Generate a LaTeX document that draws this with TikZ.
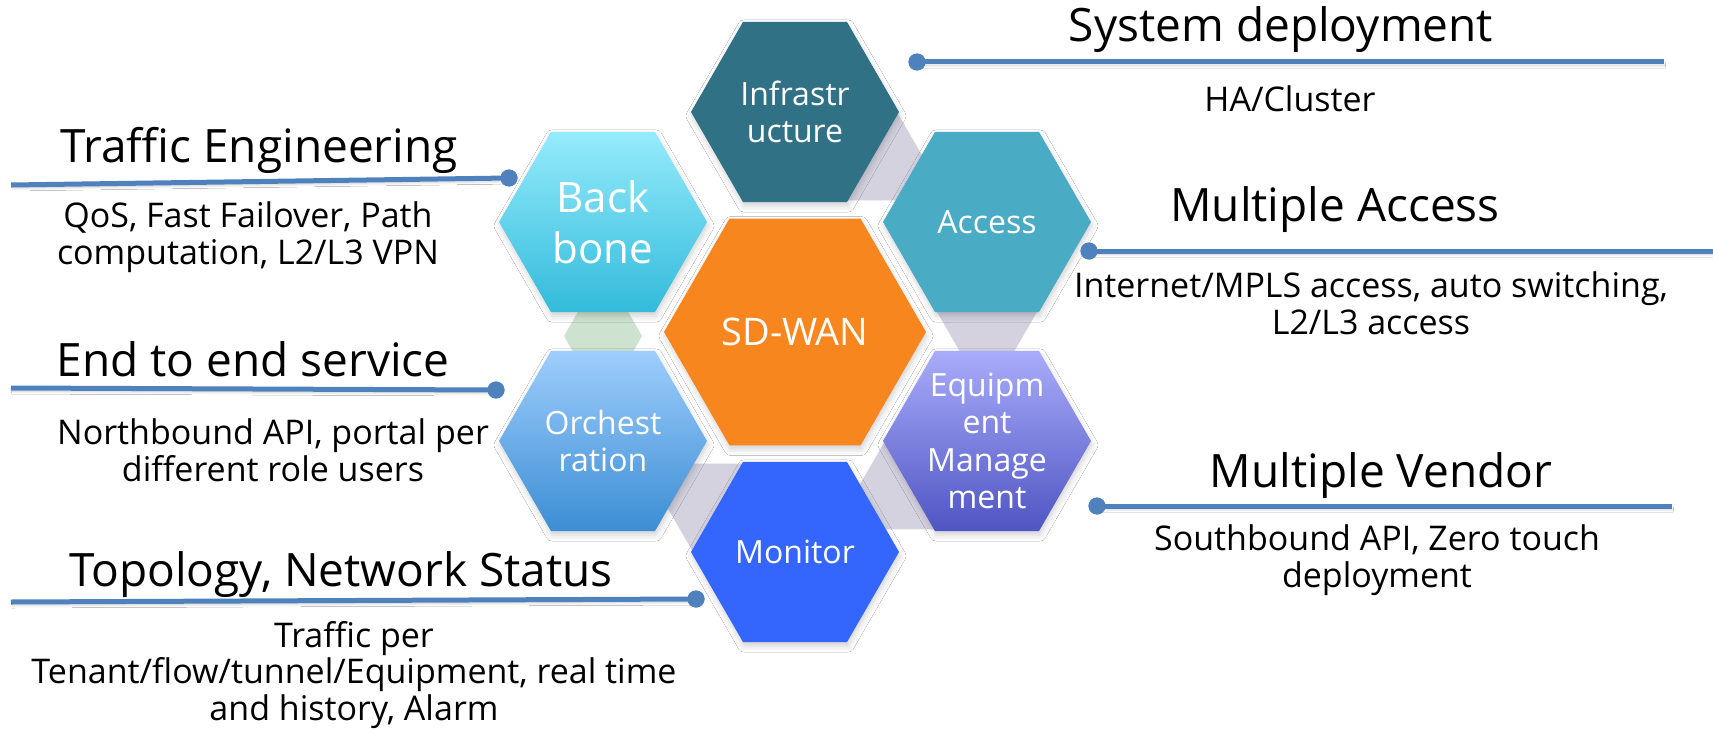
\documentclass[tikz,border=0pt]{standalone}
\usepackage{fontspec}
\setmainfont{Open Sans}
\usetikzlibrary{shapes.geometric,shadows.blur}
\definecolor{infra}{RGB}{49,113,133}
\definecolor{backtop}{RGB}{149,235,252}
\definecolor{backbot}{RGB}{51,187,219}
\definecolor{accessc}{RGB}{74,171,196}
\definecolor{sdwan}{RGB}{248,134,31}
\definecolor{orchtop}{RGB}{158,206,252}
\definecolor{orchbot}{RGB}{60,141,212}
\definecolor{equiptop}{RGB}{169,172,250}
\definecolor{equipbot}{RGB}{79,85,195}
\definecolor{monitorc}{RGB}{52,101,252}
\definecolor{connc}{RGB}{213,210,224}
\definecolor{greenc}{RGB}{205,227,207}
\definecolor{lineblue}{RGB}{79,129,189}
\tikzset{
  hexa/.style={regular polygon, regular polygon sides=6, inner sep=0pt, minimum size=208bp, draw=none,
     blur shadow={shadow xshift=1bp, shadow yshift=-4bp, shadow blur radius=6bp, shadow opacity=18}},
  conn/.style={regular polygon, regular polygon sides=6, inner sep=0pt, minimum size=100bp, draw=none, fill=connc},
  hextext/.style={text=white, align=center, inner sep=0pt, font=\fontsize{32bp}{37.5bp}\selectfont},
  head/.style={inner sep=0pt, font=\fontsize{46bp}{52bp}\selectfont},
  sub/.style={inner sep=0pt, align=center, font=\fontsize{34bp}{36.5bp}\selectfont},
  bar/.style={draw=lineblue, line width=5bp,
     blur shadow={shadow xshift=1bp, shadow yshift=-3bp, shadow blur radius=3bp, shadow opacity=22}},
  dotc/.style={circle, fill=lineblue, inner sep=0pt, minimum size=17bp},
}
\begin{document}
\begin{tikzpicture}[x=1bp,y=-1bp]
\useasboundingbox (0,0) rectangle (1713,730);
\fill[white] (0,0) rectangle (1713,730);
% connectors behind
\node[conn] (c1) at (873,157) {};
\node[conn] (c2) at (987,312) {};
\node[conn] (c3) at (909,486) {};
\node[conn] (c4) at (717,507) {};
\node[conn, minimum size=78bp, fill=greenc] (c5) at (603,336) {};
% hexagons
\node[hexa, fill=infra] (infra) at (795,112) {};
\node[hexa, top color=backtop, bottom color=backbot] (back) at (603,222) {};
\node[hexa, fill=accessc] (access) at (987,222) {};
\node[hexa, fill=sdwan, minimum size=262bp] (sd) at (795,332) {};
\node[hexa, top color=orchtop, bottom color=orchbot] (orch) at (603,441) {};
\node[hexa, top color=equiptop, bottom color=equipbot] (equip) at (987,441) {};
\node[hexa, fill=monitorc] (mon) at (795,552) {};
% hexagon texts
\node[hextext] (tinfra) at (infra.center) {Infrastr\\ucture};
\node[hextext, font=\fontsize{42bp}{51bp}\selectfont] (tback) at (back.center) {Back\\bone};
\node[hextext] (taccess) at (access.center) {Access};
\node[hextext, font=\fontsize{38bp}{44bp}\selectfont] (tsd) at (sd.center) {SD-WAN};
\node[hextext] (torch) at (orch.center) {Orchest\\ration};
\node[hextext] (tequip) at (equip.center) {Equipm\\ent\\Manage\\ment};
\node[hextext] (tmon) at (mon.center) {Monitor};
% right side labels
\node[head] (hsys) at (1281,30) {System deployment};
\node[dotc] (dsys) at (917,62) {};
\coordinate (esys) at (1664,62);
\draw[bar] (dsys.center) -- (esys);
\node[dotc] at (dsys) {};
\node[sub] (ssys) at (1290,99) {HA/Cluster};

\node[head] (hacc) at (1335,210) {Multiple Access};
\node[dotc] (dacc) at (1089,251) {};
\coordinate (eacc) at (1720,251);
\draw[bar] (dacc.center) -- (eacc);
\node[dotc] at (dacc) {};
\node[sub] (sacc) at (1371,303) {Internet/MPLS access, auto switching,\\L2/L3 access};

\node[head] (hven) at (1381,476) {Multiple Vendor};
\node[dotc] (dven) at (1097,506) {};
\coordinate (even) at (1672,506);
\draw[bar] (dven.center) -- (even);
\node[dotc] at (dven) {};
\node[sub] (sven) at (1377,560) {Southbound API, Zero touch\\deployment};

% left side labels
\node[head] (htra) at (259,150) {Traffic Engineering};
\node[dotc] (dtra) at (509,178) {};
\coordinate (etra) at (11,185);
\draw[bar] (etra) -- (dtra.center);
\node[dotc] at (dtra) {};
\node[sub] (stra) at (248,237) {QoS, Fast Failover, Path\\computation, L2/L3 VPN};

\node[head] (hend) at (253,359) {End to end service};
\node[dotc] (dend) at (496,390) {};
\coordinate (eend) at (11,388);
\draw[bar] (eend) -- (dend.center);
\node[dotc] at (dend) {};
\node[sub] (send) at (273,450) {Northbound API, portal per\\different role users};

\node[head] (htop) at (341,575) {Topology, Network Status};
\node[dotc] (dtop) at (696,599) {};
\coordinate (etop) at (11,602);
\draw[bar] (etop) -- (dtop.center);
\node[dotc] at (dtop) {};
\node[sub] (stop) at (354,675) {Traffic per\\Tenant/flow/tunnel/Equipment, real time\\and history, Alarm};
\end{tikzpicture}
\end{document}
